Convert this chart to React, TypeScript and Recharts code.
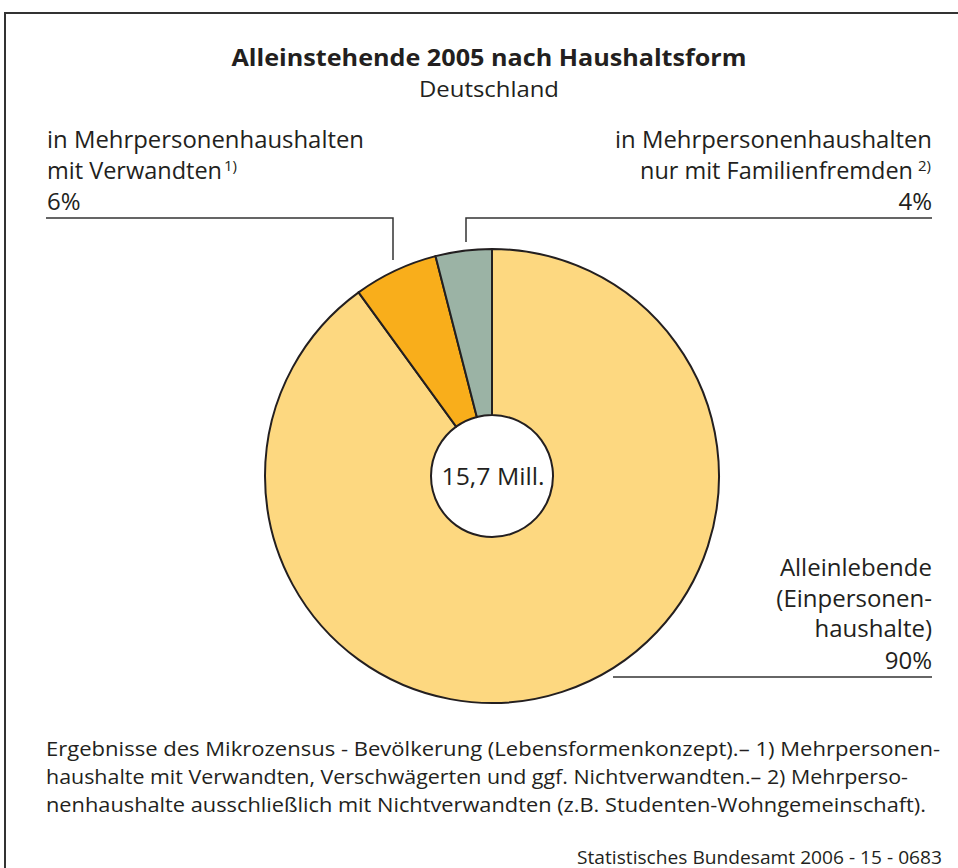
import React from "react";
import {Cell, Pie, PieChart} from "recharts";

const categories = [
    "Alleinlebende (Einpersonenhaushalte)",
    "in Mehrpersonenhaushalten mit Verwandten",
    "in Mehrpersonenhaushalten nur mit Familienfremden",
];
const shares = [90, 6, 4];
const sliceColors = ["#fdd880", "#f9ae1b", "#9bb3a5"];
const totalLabel = "15,7 Mill.";

const title = "Alleinstehende 2005 nach Haushaltsform";
const subtitle = "Deutschland";
const footnotes = [
    "Ergebnisse des Mikrozensus - Bevölkerung (Lebensformenkonzept).– 1) Mehrpersonen-",
    "haushalte mit Verwandten, Verschwägerten und ggf. Nichtverwandten.– 2) Mehrperso-",
    "nenhaushalte ausschließlich mit Nichtverwandten (z.B. Studenten-Wohngemeinschaft).",
];
const source = "Statistisches Bundesamt 2006 - 15 - 0683";

const data = categories.map((name, i) => ({name, value: shares[i]}));

const FONT = "'Open Sans', 'Noto Sans', sans-serif";
const INK = "#231f20";
const CX = 492;
const CY = 476;

const Txt = ({x, y, children, size = 24, anchor = "start", len, weight = 400}: any) => (
    <text x={x} y={y} fontSize={size} fontFamily={FONT} fill={INK} textAnchor={anchor}
          fontWeight={weight}
          textLength={len} lengthAdjust={len ? "spacingAndGlyphs" : undefined}>
        {children}
    </text>
);

const Overlay = () => (
    <svg width={958} height={868} style={{position: "absolute", left: 0, top: 0, pointerEvents: "none"}}>
        {/* frame */}
        <path d="M5,868 L5,13 L958,13" fill="none" stroke="#333" strokeWidth={2}/>

        <Txt x={489} y={66} size={24} anchor="middle" weight={700} len={515}>{title}</Txt>
        <Txt x={489} y={97} size={22} anchor="middle" len={140}>{subtitle}</Txt>

        {/* left label */}
        <Txt x={47} y={148} len={317}>in Mehrpersonenhaushalten</Txt>
        <Txt x={47} y={179} len={175}>mit Verwandten</Txt>
        <text x={224} y={171} fontSize={15} fontFamily={FONT} fill={INK}>1)</text>
        <Txt x={47} y={210}>6%</Txt>
        <path d="M46,218 L393,218 L393,260" fill="none" stroke="#333" strokeWidth={1.5}/>

        {/* right label */}
        <Txt x={932} y={148} anchor="end" len={317}>in Mehrpersonenhaushalten</Txt>
        <Txt x={913} y={179} anchor="end" len={273}>nur mit Familienfremden</Txt>
        <text x={918} y={171} fontSize={15} fontFamily={FONT} fill={INK}>2)</text>
        <Txt x={932} y={210} anchor="end">4%</Txt>
        <path d="M932,218 L466,218 L466,242" fill="none" stroke="#333" strokeWidth={1.5}/>

        {/* bottom right label */}
        <Txt x={932} y={576} anchor="end">Alleinlebende</Txt>
        <Txt x={932} y={607} anchor="end">(Einpersonen-</Txt>
        <Txt x={932} y={637} anchor="end">haushalte)</Txt>
        <Txt x={932} y={669} anchor="end">90%</Txt>
        <line x1={613} y1={677} x2={932} y2={677} stroke="#333" strokeWidth={1.5}/>

        {/* total in the hole */}
        <Txt x={CX + 1} y={CY + 9} size={24} anchor="middle" len={103}>{totalLabel}</Txt>

        {footnotes.map((t, i) => (
            <Txt key={i} x={46} y={756 + i * 28} size={20} len={i === 0 ? 894 : i === 1 ? 862 : 880}>{t}</Txt>
        ))}
        <Txt x={942} y={864} size={18} anchor="end" len={365}>{source}</Txt>
    </svg>
);

export default function App() {
    return (
        <div style={{position: "absolute", left: 0, top: 0, width: 958, height: 868, background: "#fff"}}>
            <PieChart width={958} height={868} margin={{top: 0, right: 0, bottom: 0, left: 0}}>
                <Pie data={data}
                     dataKey="value"
                     nameKey="name"
                     cx={CX}
                     cy={CY}
                     innerRadius={61}
                     outerRadius={227}
                     startAngle={90}
                     endAngle={-270}
                     stroke={INK}
                     strokeWidth={2}
                     isAnimationActive={false}
                >
                    {data.map((d, i) => <Cell key={d.name} fill={sliceColors[i]}/>)}
                </Pie>
            </PieChart>
            <Overlay/>
        </div>
    );
}
